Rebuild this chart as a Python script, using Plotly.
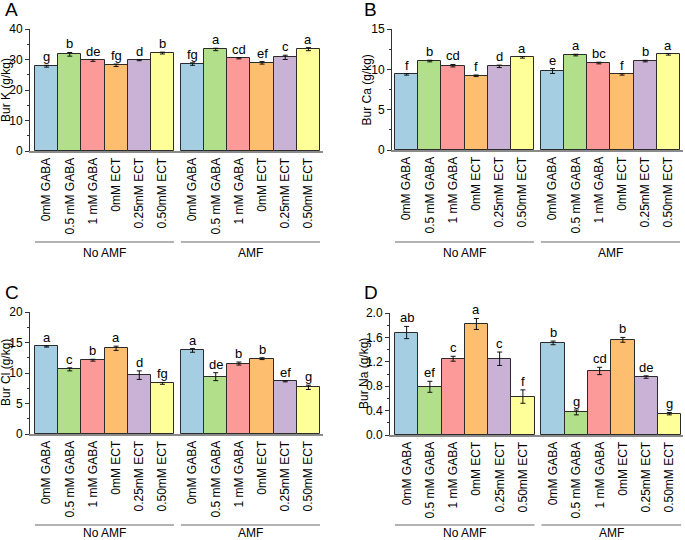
import plotly.graph_objects as go

W, H = 685, 540

categories = ["0mM GABA", "0.5 mM GABA", "1 mM GABA", "0mM ECT", "0.25mM ECT", "0.50mM ECT"]
groups = ["No AMF", "AMF"]
colors = ["#a6cee3", "#b2df8a", "#fb9a99", "#fdbf6f", "#cab2d6", "#ffff99"]
x_pos = [0, 1, 2, 3, 4, 5, 6.3, 7.3, 8.3, 9.3, 10.3, 11.3]

k_vals = [27.8, 31.7, 29.7, 28.1, 29.8, 32.1, 28.5, 33.3, 30.4, 28.9, 30.7, 33.4]
k_err = [0.3, 0.6, 0.3, 0.4, 0.2, 0.3, 0.4, 0.4, 0.2, 0.4, 0.7, 0.5]
k_let = ["g", "b", "de", "fg", "d", "b", "fg", "a", "cd", "ef", "c", "a"]

ca_vals = [9.38, 11.03, 10.45, 9.2, 10.37, 11.49, 9.79, 11.77, 10.78, 9.38, 11.03, 11.86]
ca_err = [0.1, 0.1, 0.15, 0.1, 0.15, 0.1, 0.3, 0.1, 0.1, 0.1, 0.1, 0.1]
ca_let = ["f", "b", "cd", "f", "d", "a", "e", "a", "bc", "f", "b", "a"]

cl_vals = [14.35, 10.6, 12.1, 14.05, 9.65, 8.3, 13.7, 9.4, 11.55, 12.35, 8.65, 7.65]
cl_err = [0.1, 0.25, 0.15, 0.35, 0.7, 0.15, 0.3, 0.65, 0.25, 0.15, 0.1, 0.35]
cl_let = ["a", "c", "b", "a", "d", "fg", "a", "de", "b", "b", "ef", "g"]

na_vals = [1.68, 0.79, 1.25, 1.82, 1.25, 0.63, 1.51, 0.37, 1.05, 1.56, 0.95, 0.35]
na_err = [0.1, 0.09, 0.04, 0.09, 0.11, 0.11, 0.03, 0.04, 0.06, 0.04, 0.02, 0.02]
na_let = ["ab", "ef", "c", "a", "c", "f", "b", "g", "cd", "b", "de", "g"]

panels = [
    dict(tag="A", vals=k_vals, err=k_err, let=k_let, title="Bur K (g/kg)",
         yr=[0, 40], dt=10, mdt=5, fmt="d",
         ax=30, b0=35, b1=320, ax1=323, top=29, bot=151, tx=6, lx=3, ly=10, gl=242, gt=253),
    dict(tag="B", vals=ca_vals, err=ca_err, let=ca_let, title="Bur Ca (g/kg)",
         yr=[0, 15], dt=5, mdt=2.5, fmt="d",
         ax=392, b0=395, b1=680, ax1=683, top=29, bot=150, tx=366, lx=362, ly=10, gl=242, gt=253),
    dict(tag="C", vals=cl_vals, err=cl_err, let=cl_let, title="Bur Cl (g/kg)",
         yr=[0, 20], dt=5, mdt=2.5, fmt="d",
         ax=30, b0=35, b1=320, ax1=323, top=312, bot=434, tx=6, lx=3, ly=292, gl=525, gt=533),
    dict(tag="D", vals=na_vals, err=na_err, let=na_let, title="Bur Na (g/kg)",
         yr=[0, 2.0], dt=0.4, mdt=0.2, fmt=".1f",
         ax=390, b0=395, b1=681, ax1=683, top=313, bot=435, tx=364, lx=362, ly=292, gl=525, gt=533),
]

fig = go.Figure()
annotations = []
shapes = []
layout = {}
FONT = "Liberation Sans, Arial, sans-serif"

for i, p in enumerate(panels):
    n = "" if i == 0 else str(i + 1)
    xa, ya = "x" + n, "y" + n
    u = (p["b1"] - p["b0"]) / 12.3
    xr = [-0.5 - (p["b0"] - p["ax"]) / u, 11.8 + (p["ax1"] - p["b1"]) / u]
    fig.add_trace(go.Bar(
        x=x_pos, y=p["vals"], width=1.0, xaxis=xa, yaxis=ya,
        marker=dict(color=colors * 2, line=dict(color="#2b2b2b", width=1)),
        error_y=dict(type="data", array=p["err"], color="#111", thickness=1, width=2.5),
        showlegend=False, hoverinfo="skip",
    ))
    layout["xaxis" + n] = dict(
        domain=[p["ax"] / W, p["ax1"] / W], range=xr, anchor=ya,
        tickvals=x_pos, ticktext=categories * 2, tickangle=-90, ticks="",
        tickfont=dict(size=12, color="#000", family=FONT),
        showline=True, linecolor="#8a8a8a", linewidth=2, showgrid=False, zeroline=False,
        fixedrange=True, automargin=False,
    )
    layout["yaxis" + n] = dict(
        domain=[1 - p["bot"] / H, 1 - p["top"] / H], range=p["yr"], anchor=xa,
        dtick=p["dt"], tick0=0, tickformat=p["fmt"], ticks="outside", ticklen=4, tickwidth=1,
        tickcolor="#333", minor=dict(ticks="outside", ticklen=2, dtick=p["mdt"], tickcolor="#333"),
        tickfont=dict(size=12, color="#000", family=FONT),
        showline=True, linecolor="#333", linewidth=1, showgrid=False, zeroline=False,
        fixedrange=True, automargin=False,
    )
    # significance letters
    for xv, v, e, t in zip(x_pos, p["vals"], p["err"], p["let"]):
        annotations.append(dict(x=xv, y=v + e, xref=xa, yref=ya, text=t, showarrow=False,
                                yanchor="bottom", yshift=-1,
                                font=dict(size=13, color="#000", family=FONT)))
    # y title
    annotations.append(dict(x=p["tx"] / W, y=1 - (p["top"] + p["bot"]) / 2 / H, xref="paper", yref="paper",
                            text=p["title"], textangle=-90, showarrow=False, xanchor="center", yanchor="middle",
                            font=dict(size=12, color="#000", family=FONT)))
    # panel tag
    annotations.append(dict(x=p["lx"] / W, y=1 - p["ly"] / H, xref="paper", yref="paper",
                            text=p["tag"], showarrow=False, xanchor="left", yanchor="middle",
                            font=dict(size=19, color="#000", family=FONT)))
    # group lines and labels
    for gx0, gx1, gname in [(-0.5, 5.5, groups[0]), (5.8, 11.8, groups[1])]:
        shapes.append(dict(type="line", xref=xa, yref="paper", x0=gx0, x1=gx1,
                           y0=1 - p["gl"] / H, y1=1 - p["gl"] / H, line=dict(color="#666", width=1)))
        annotations.append(dict(x=(gx0 + gx1) / 2, y=1 - p["gt"] / H, xref=xa, yref="paper", text=gname,
                                showarrow=False, xanchor="center", yanchor="middle",
                                font=dict(size=12, color="#000", family=FONT)))

fig.update_layout(
    width=W, height=H, margin=dict(l=0, r=0, t=0, b=0, autoexpand=False),
    paper_bgcolor="white", plot_bgcolor="white",
    annotations=annotations, shapes=shapes, bargap=0,
    **layout,
)

fig.write_html("out.html", config={"displayModeBar": False},
               post_script="document.body.style.margin='0';document.body.style.overflow='hidden';")
